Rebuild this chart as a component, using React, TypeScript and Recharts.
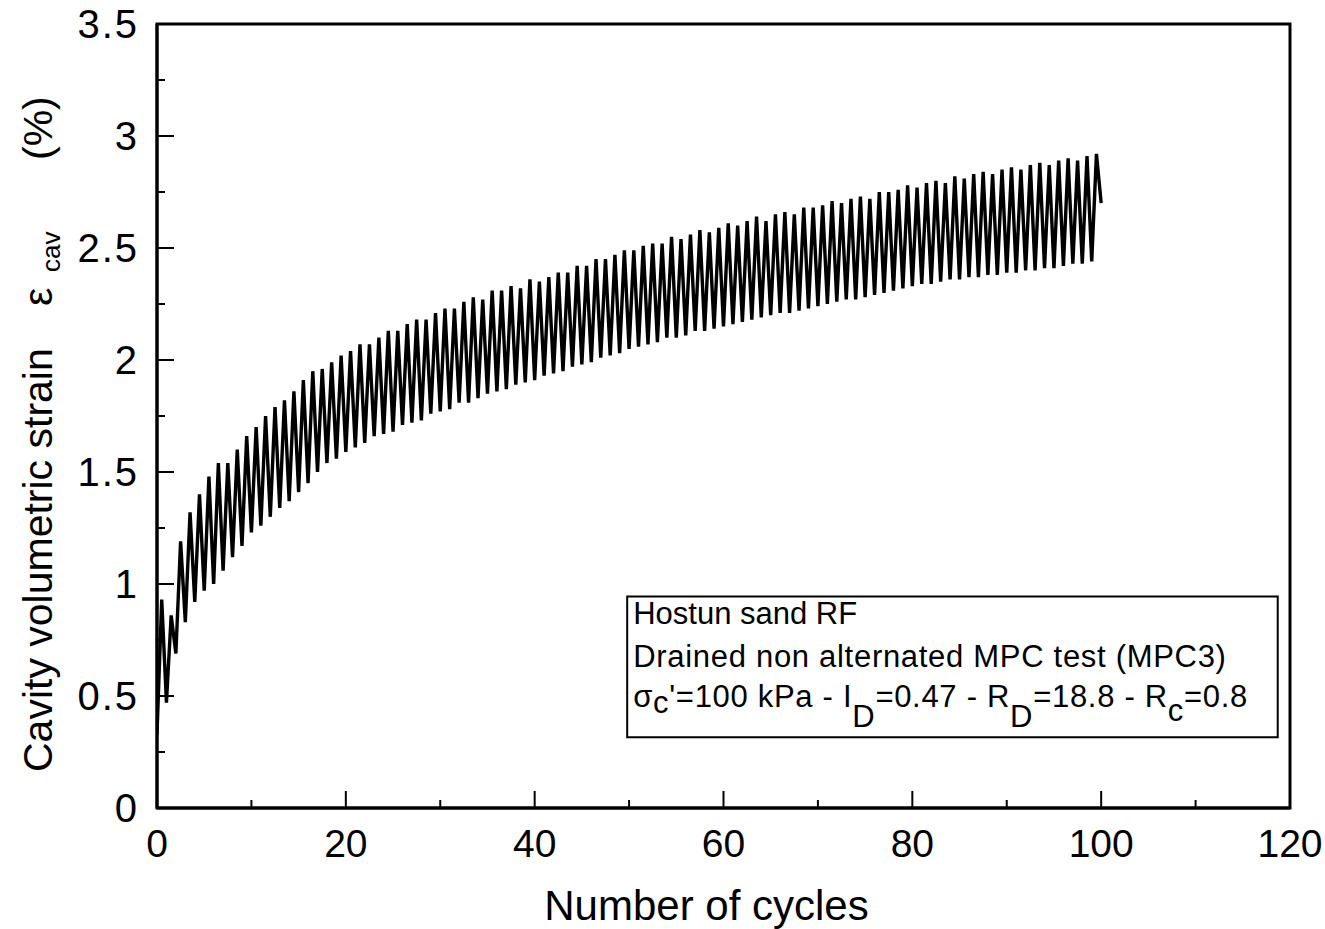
import React from 'react';
import { LineChart, Line, XAxis, YAxis, ReferenceArea } from 'recharts';

// Peak strain (%) reached in each loading cycle (cycles 0..99)
const peakStrain = [
  0.93, 0.86, 1.19, 1.32, 1.40, 1.48, 1.54, 1.54, 1.60, 1.66,
  1.70, 1.75, 1.79, 1.82, 1.86, 1.91, 1.95, 1.96, 1.99, 2.02,
  2.04, 2.07, 2.07, 2.10, 2.13, 2.13, 2.16, 2.18, 2.18, 2.21,
  2.23, 2.23, 2.26, 2.28, 2.27, 2.31, 2.31, 2.33, 2.32, 2.36,
  2.35, 2.37, 2.39, 2.39, 2.42, 2.42, 2.45, 2.45, 2.47, 2.49,
  2.49, 2.51, 2.52, 2.52, 2.55, 2.54, 2.56, 2.58, 2.57, 2.59,
  2.61, 2.60, 2.62, 2.64, 2.62, 2.65, 2.66, 2.65, 2.68, 2.68,
  2.69, 2.71, 2.70, 2.72, 2.73, 2.72, 2.75, 2.75, 2.76, 2.78,
  2.77, 2.79, 2.80, 2.79, 2.82, 2.81, 2.83, 2.84, 2.83, 2.85,
  2.86, 2.85, 2.87, 2.88, 2.87, 2.89, 2.90, 2.89, 2.91, 2.92,
];

// Trough strain (%) at the start of each cycle (cycles 0..99)
const troughStrain = [
  0.33, 0.47, 0.69, 0.83, 0.92, 0.97, 1.00, 1.06, 1.12, 1.17,
  1.23, 1.26, 1.30, 1.34, 1.37, 1.41, 1.45, 1.50, 1.54, 1.56,
  1.59, 1.61, 1.63, 1.66, 1.67, 1.68, 1.71, 1.72, 1.73, 1.76,
  1.77, 1.78, 1.81, 1.81, 1.83, 1.85, 1.86, 1.87, 1.89, 1.90,
  1.91, 1.93, 1.94, 1.95, 1.97, 1.98, 1.99, 2.01, 2.02, 2.03,
  2.05, 2.06, 2.07, 2.08, 2.10, 2.10, 2.11, 2.13, 2.13, 2.14,
  2.15, 2.16, 2.17, 2.18, 2.19, 2.20, 2.21, 2.21, 2.22, 2.23,
  2.24, 2.25, 2.26, 2.27, 2.27, 2.28, 2.29, 2.30, 2.31, 2.32,
  2.33, 2.34, 2.34, 2.35, 2.36, 2.36, 2.37, 2.37, 2.38, 2.38,
  2.39, 2.39, 2.40, 2.40, 2.41, 2.41, 2.42, 2.43, 2.43, 2.44,
];

const finalCycle = 100;
const finalStrain = 2.70;

const xTicks = [0, 10, 20, 30, 40, 50, 60, 70, 80, 90, 100, 110, 120];
const yTicks = [0, 0.25, 0.5, 0.75, 1, 1.25, 1.5, 1.75, 2, 2.25, 2.5, 2.75, 3, 3.25, 3.5];

const data: { n: number; e: number }[] = [];
troughStrain.forEach((t, i) => {
  data.push({ n: i, e: t });
  data.push({ n: i + 0.5, e: peakStrain[i] });
});
data.push({ n: finalCycle, e: finalStrain });

const FONT = "'Liberation Sans', Arial, Helvetica, sans-serif";

const XTick = (props: any) => {
  const { x, y, payload } = props;
  const v = payload.value;
  const major = v % 20 === 0;
  return (
    <g>
      <line x1={x} x2={x} y1={y} y2={y - (major ? 17 : 8)} stroke="#000" strokeWidth={2} />
      {major && (
        <text x={x} y={y + 49} textAnchor="middle" fontSize={39} fontFamily={FONT} fill="#000">
          {v}
        </text>
      )}
    </g>
  );
};

const YTick = (props: any) => {
  const { x, y, payload } = props;
  const v = payload.value;
  const major = Math.abs((v * 2) % 1) < 1e-9;
  return (
    <g>
      <line x1={x} x2={x + (major ? 17 : 8)} y1={y} y2={y} stroke="#000" strokeWidth={2} />
      {major && (
        <text x={x - 18} y={y + 14} textAnchor="end" fontSize={40} letterSpacing={2} fontFamily={FONT} fill="#000">
          {String(v)}
        </text>
      )}
    </g>
  );
};

const YLabel = () => (
  <text transform="translate(52,772) rotate(-90)" fontSize={41} fontFamily={FONT} fill="#000">
    <tspan x={0}>Cavity volumetric strain</tspan>
    <tspan x={466}>ε</tspan>
    <tspan x={500} dy={8} fontSize={26}>cav</tspan>
    <tspan x={612} dy={-8}>(%)</tspan>
  </text>
);

const XLabel = (props: any) => {
  const vb = props.viewBox || { x: 157, width: 1133, y: 808 };
  return (
    <text x={vb.x + vb.width / 2 - 17} y={920} textAnchor="middle" fontSize={42} fontFamily={FONT} fill="#000">
      Number of cycles
    </text>
  );
};

const AnnotationLabel = (props: any) => {
  const vb = props.viewBox || {};
  const x0 = vb.x + 6;
  const y0 = vb.y;
  const fs = 31;
  const sub = 20;
  return (
    <g fontFamily={FONT} fontSize={fs} fill="#000">
      <text x={x0} y={y0 + 27}>Hostun sand RF</text>
      <text x={x0} y={y0 + 70} letterSpacing={0.7}>Drained non alternated MPC  test (MPC3)</text>
      <text x={x0} y={y0 + 110} letterSpacing={0.7}>
        <tspan>σ</tspan>
        <tspan dy={6}>c</tspan>
        <tspan dy={-6}>'=100 kPa - I</tspan>
        <tspan dy={sub}>D</tspan>
        <tspan dy={-sub}>=0.47 - R</tspan>
        <tspan dy={sub}>D</tspan>
        <tspan dy={-sub}>=18.8 - R</tspan>
        <tspan dy={sub - 6}>c</tspan>
        <tspan dy={-(sub - 6)}>=0.8</tspan>
      </text>
    </g>
  );
};

export default function App() {
  return (
    <div style={{ position: 'absolute', left: 0, top: 0, width: 1325, height: 929, background: '#fff' }}>
      <LineChart width={1325} height={929} data={data} margin={{ top: 24, right: 35, bottom: 0, left: 0 }}>
        <XAxis
          dataKey="n"
          type="number"
          domain={[0, 120]}
          ticks={xTicks}
          interval={0}
          height={121}
          tickSize={0}
          tickMargin={0}
          tickLine={false}
          tick={<XTick />}
          axisLine={{ stroke: '#000', strokeWidth: 3 }}
          label={<XLabel />}
          allowDataOverflow
        />
        <YAxis
          type="number"
          domain={[0, 3.5]}
          ticks={yTicks}
          interval={0}
          width={157}
          tickSize={0}
          tickMargin={0}
          tickLine={false}
          tick={<YTick />}
          axisLine={{ stroke: '#000', strokeWidth: 3 }}
          label={<YLabel />}
          allowDataOverflow
        />
        <ReferenceArea
          x1={0}
          x2={120}
          y1={0}
          y2={3.5}
          fill="none"
          fillOpacity={0}
          stroke="#000"
          strokeWidth={3}
          ifOverflow="visible"
        />
        <Line
          type="linear"
          dataKey="e"
          stroke="#000"
          strokeWidth={3.4}
          strokeLinejoin="bevel"
          dot={false}
          activeDot={false}
          isAnimationActive={false}
        />
        <ReferenceArea
          x1={49.8}
          x2={118.7}
          y1={0.316}
          y2={0.944}
          fill="#fff"
          fillOpacity={1}
          stroke="#000"
          strokeWidth={2}
          ifOverflow="visible"
          label={<AnnotationLabel />}
        />
      </LineChart>
    </div>
  );
}
